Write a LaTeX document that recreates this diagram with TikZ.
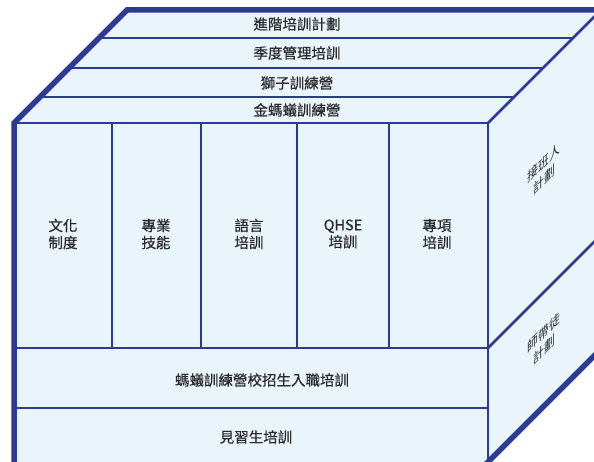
\documentclass[tikz,border=0pt]{standalone}
\usepackage{fontspec}
\setmainfont{Noto Sans CJK TC}[FakeBold=0.5]
\newfontfamily\sidefont{Noto Sans CJK TC}
\definecolor{cubeblue}{HTML}{2B3A94}
\definecolor{cubefill}{HTML}{E9F4FB}
\definecolor{txt}{HTML}{2A2A2A}
\begin{document}
\begin{tikzpicture}[x=1pt,y=-1pt,
  edge/.style={draw=cubeblue, line width=2.8pt},
  heavy/.style={draw=cubeblue, line width=5.5pt, line join=miter},
  lbl/.style={text=txt, font=\fontsize{14.5}{17}\selectfont, align=center, inner sep=0pt},
  sidelbl/.style={text=txt, font=\sidefont\fontsize{13.5}{17}\selectfont, align=center, inner sep=0pt, yslant=1, xscale=0.8}]
\useasboundingbox (0,0) rectangle (594,462);
\clip (0,0) rectangle (594,462);
% faces
\fill[cubefill] (14,123) -- (127,10) -- (601,10) -- (601,349) -- (488,462) -- (14,462) -- cycle;
% top strips
\draw[edge] (99,38) -- (573,38);
\draw[edge] (69,68) -- (543,68);
\draw[edge] (40,97) -- (514,97);
% front grid
\draw[edge] (14,123) -- (488,123);
\foreach \x in {112,201,297,389} \draw[edge] (\x,123) -- (\x,348);
\draw[edge] (14,348) -- (488,348);
\draw[edge] (14,408) -- (488,408);
\draw[edge] (488,123) -- (488,462);
% side
\draw[edge] (488,123) -- (601,10);
\draw[edge] (488,348) -- (601,235);
% heavy outline
\draw[heavy] (14,470) -- (14,123) -- (127,10) -- (610,10);
\draw[heavy] (482,468) -- (608,342);
% labels: top
\node[lbl] (t1) at (297,24) {進階培訓計劃};
\node[lbl] (t2) at (297,53) {季度管理培訓};
\node[lbl] (t3) at (297,83) {獅子訓練營};
\node[lbl] (t4) at (297,110) {金螞蟻訓練營};
% columns
\node[lbl] (c1) at (63,234) {文化\\制度};
\node[lbl] (c2) at (156,234) {專業\\技能};
\node[lbl] (c3) at (249,234) {語言\\培訓};
\node[lbl] (c4) at (343,234) {QHSE\\培訓};
\node[lbl] (c5) at (437,234) {專項\\培訓};
% rows
\node[lbl] (r1) at (262,380) {螞蟻訓練營校招生入職培訓};
\node[lbl] (r2) at (256,437) {見習生培訓};
% side
\node[sidelbl] (s1) at (544,171) {接班人\\計劃};
\node[sidelbl] (s2) at (544,341) {師帶徒\\計劃};
\end{tikzpicture}
\end{document}
